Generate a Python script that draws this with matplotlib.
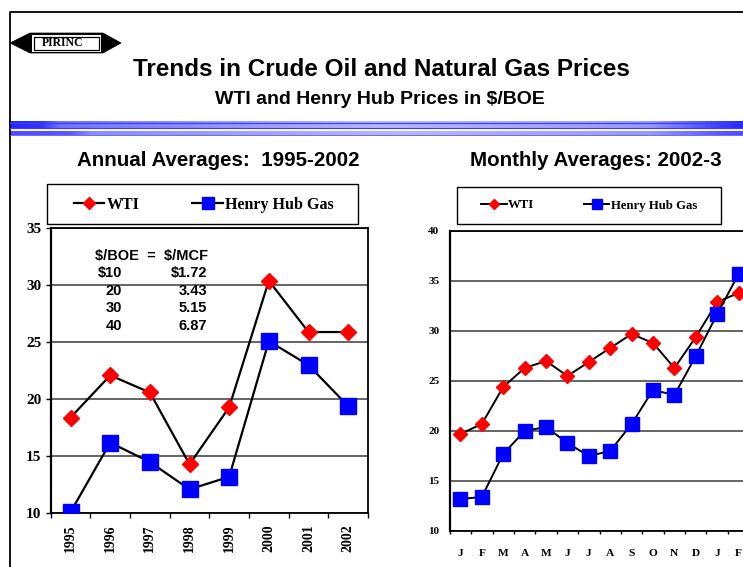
import numpy as np
import matplotlib
matplotlib.use("Agg")
import matplotlib.pyplot as plt
from matplotlib.lines import Line2D
from matplotlib.patches import Polygon, Rectangle

# ---------------- data ----------------
years = ["1995", "1996", "1997", "1998", "1999", "2000", "2001", "2002"]
wti_annual = [18.4, 22.1, 20.6, 14.3, 19.3, 30.4, 25.9, 25.9]
hh_annual = [10.1, 16.2, 14.5, 12.1, 13.2, 25.1, 23.0, 19.4]

months = ["J", "F", "M", "A", "M", "J", "J", "A", "S", "O", "N", "D", "J", "F"]
wti_monthly = [19.7, 20.7, 24.4, 26.3, 27.0, 25.5, 26.9, 28.3, 29.7, 28.8, 26.3, 29.4, 32.9, 33.8]
hh_monthly = [13.2, 13.4, 17.7, 20.0, 20.4, 18.8, 17.5, 18.0, 20.7, 24.1, 23.6, 27.5, 31.7, 35.7]

conv_boe = ["\\$10", "20", "30", "40"]
conv_mcf = ["\\$1.72", "3.43", "5.15", "6.87"]

SANS = "Liberation Sans"
SERIF = "Liberation Serif"

W, H = 743, 567
fig = plt.figure(figsize=(W / 100, H / 100), dpi=100)
fig.patch.set_facecolor("white")


def fx(px):
    return px / W


def fy(py):
    return 1 - py / H


# ---------------- overlay (pixel coordinates) ----------------
ov = fig.add_axes([0, 0, 1, 1], zorder=5)
ov.axis("off")
ov.patch.set_alpha(0)

# outer frame
ov.plot([10, 10, W + 5], [H + 5, 12, 12], color="black", lw=1.3, solid_capstyle="butt")

# logo
ov.add_patch(Polygon([(10, 43), (30, 33), (103, 33), (121, 43), (103, 53), (30, 53)],
                     closed=True, facecolor="black", edgecolor="black", lw=0.5))
ov.add_patch(Rectangle((32, 35), 69, 16.5, facecolor="white", edgecolor="none"))
ov.add_patch(Rectangle((34, 37), 65, 12.5, facecolor="white", edgecolor="black", lw=0.9))
ov.text(63, 43.5, "PIRINC", fontfamily=SERIF, fontweight="bold", fontsize=8.5,
        ha="center", va="center", color="black")

# titles
ov.text(381, 70, "Trends in Crude Oil and Natural Gas Prices", fontfamily=SANS,
        fontweight="bold", fontsize=17.5, ha="center", va="center")
ov.text(380, 99, "WTI and Henry Hub Prices in \\$/BOE", fontfamily=SANS,
        fontweight="bold", fontsize=14, ha="center", va="center")

# gradient bars
xs = np.linspace(10, W, 400)
top_l = np.interp(xs, [10, 40, 60, 380, 650, 720, 743], [0.15, 0.2, 0.45, 0.72, 0.6, 0.25, 0.15])
low_l = np.interp(xs, [10, 70, 90, 400, 650, 720, 743], [0.3, 0.35, 0.55, 0.72, 0.6, 0.35, 0.3])
for l, (y0, y1) in [(top_l, (122, 128.5)), (low_l, (131, 135))]:
    img = np.zeros((1, len(xs), 3))
    img[0, :, 0] = l
    img[0, :, 1] = l
    img[0, :, 2] = 1.0
    ov.imshow(img, extent=(10, W, y1, y0), aspect="auto", interpolation="bilinear", zorder=1)
ov.plot([10, W], [122.5, 122.5], color="#3a3aff", lw=0.8, zorder=2)
ov.plot([10, W], [128, 128], color="#3a3aff", lw=0.8, zorder=2)
ov.plot([10, W], [134.6, 134.6], color="#5050ff", lw=0.6, zorder=2)
ov.set_xlim(0, W)
ov.set_ylim(H, 0)

# chart titles
ov.text(218, 160, "Annual Averages:  1995-2002", fontfamily=SANS, fontweight="bold",
        fontsize=14.8, ha="center", va="center")
ov.text(596, 160, "Monthly Averages: 2002-3", fontfamily=SANS, fontweight="bold",
        fontsize=14.8, ha="center", va="center")

# legend boxes
ov.add_patch(Rectangle((48, 185), 311, 40, facecolor="#888888", edgecolor="none"))
ov.add_patch(Rectangle((47, 184), 311, 40, facecolor="white", edgecolor="black", lw=1.0))
ov.add_patch(Rectangle((458, 188), 264, 37, facecolor="#888888", edgecolor="none"))
ov.add_patch(Rectangle((457, 187), 264, 37, facecolor="white", edgecolor="black", lw=1.0))

# conversion table
ov.text(95, 256, "\\$/BOE  =  \\$/MCF", fontfamily=SANS, fontweight="bold", fontsize=10.5,
        ha="left", va="center")
for i, (b, m) in enumerate(zip(conv_boe, conv_mcf)):
    yy = 273.5 + i * 17.5
    ov.text(122, yy, b, fontfamily=SANS, fontweight="bold", fontsize=10.5, ha="right", va="center")
    ov.text(207, yy, m, fontfamily=SANS, fontweight="bold", fontsize=10.5, ha="right", va="center")


def style_axes(ax, labels, ylo, yhi, ysize, xsize, xrot, xpad, ypad, ticklen, yticklen):
    n = len(labels)
    ax.set_xlim(-0.5, n - 0.5)
    ax.set_ylim(ylo, yhi)
    ax.set_yticks(np.arange(ylo, yhi + 1, 5))
    ax.set_xticks(np.arange(n))
    ax.set_xticks(np.arange(n + 1) - 0.5, minor=True)
    ax.set_xticklabels(labels, rotation=xrot)
    ax.tick_params(axis="x", which="major", length=0, pad=xpad)
    ax.tick_params(axis="x", which="minor", length=ticklen, width=1.0, direction="out")
    ax.tick_params(axis="y", length=yticklen, width=1.0, direction="out", pad=ypad)
    for lab in ax.get_xticklabels():
        lab.set_fontfamily(SERIF)
        lab.set_fontweight("bold")
        lab.set_fontsize(xsize)
    for lab in ax.get_yticklabels():
        lab.set_fontfamily(SERIF)
        lab.set_fontweight("bold")
        lab.set_fontsize(ysize)
    ax.grid(axis="y", color="#3a3a3a", lw=1.1)
    ax.set_axisbelow(True)
    for s in ax.spines.values():
        s.set_color("black")
        s.set_linewidth(1.3)
    ax.spines["left"].set_linewidth(1.6)


# ---------------- left chart ----------------
ax1 = fig.add_axes([fx(50.7), fy(513.3), fx(368 - 50.7), (513.3 - 228.3) / H], zorder=2)
x1 = np.arange(len(years))
ax1.plot(x1, wti_annual, color="black", lw=1.6, marker="D", ms=8.3, mfc="red", mec="red",
         mew=1, zorder=3)
ax1.plot(x1, hh_annual, color="black", lw=1.6, marker="s", ms=11.3, mfc="blue", mec="blue",
         mew=1, zorder=3)
style_axes(ax1, years, 10, 35, 11, 10, 90, 8, 3, 3.6, 3.6)

h1 = [Line2D([], [], color="black", lw=1.6, marker="D", ms=6.2, mfc="red", mec="red"),
      Line2D([], [], color="black", lw=1.6, marker="s", ms=8.0, mfc="blue", mec="blue")]
fig.legend(h1, ["WTI", "Henry Hub Gas"], loc="center",
           bbox_to_anchor=(fx(204), fy(205)), ncol=2, frameon=False,
           prop={"family": SERIF, "weight": "bold", "size": 11.5},
           handlelength=1.9, handletextpad=0.15, columnspacing=3.3, numpoints=1)

# ---------------- right chart ----------------
ax2 = fig.add_axes([fx(449.7), fy(531), fx(299.6), (531 - 231) / H], zorder=2)
x2 = np.arange(len(months))
ax2.plot(x2, wti_monthly, color="black", lw=1.4, marker="D", ms=7.0, mfc="red", mec="red",
         mew=1, zorder=3)
ax2.plot(x2, hh_monthly, color="black", lw=1.4, marker="s", ms=9.5, mfc="blue", mec="blue",
         mew=1, zorder=3)
style_axes(ax2, months, 10, 40, 8, 8.2, 0, 13, 7.5, 2.5, 0)

h2 = [Line2D([], [], color="black", lw=1.4, marker="D", ms=5.0, mfc="red", mec="red"),
      Line2D([], [], color="black", lw=1.4, marker="s", ms=6.5, mfc="blue", mec="blue")]
fig.legend(h2, ["WTI", "Henry Hub Gas"], loc="center",
           bbox_to_anchor=(fx(589), fy(205.5)), ncol=2, frameon=False,
           prop={"family": SERIF, "weight": "bold", "size": 9.2},
           handlelength=2.0, handletextpad=0.1, columnspacing=3.9, numpoints=1)

fig.savefig("out.png", dpi=100, facecolor="white")
